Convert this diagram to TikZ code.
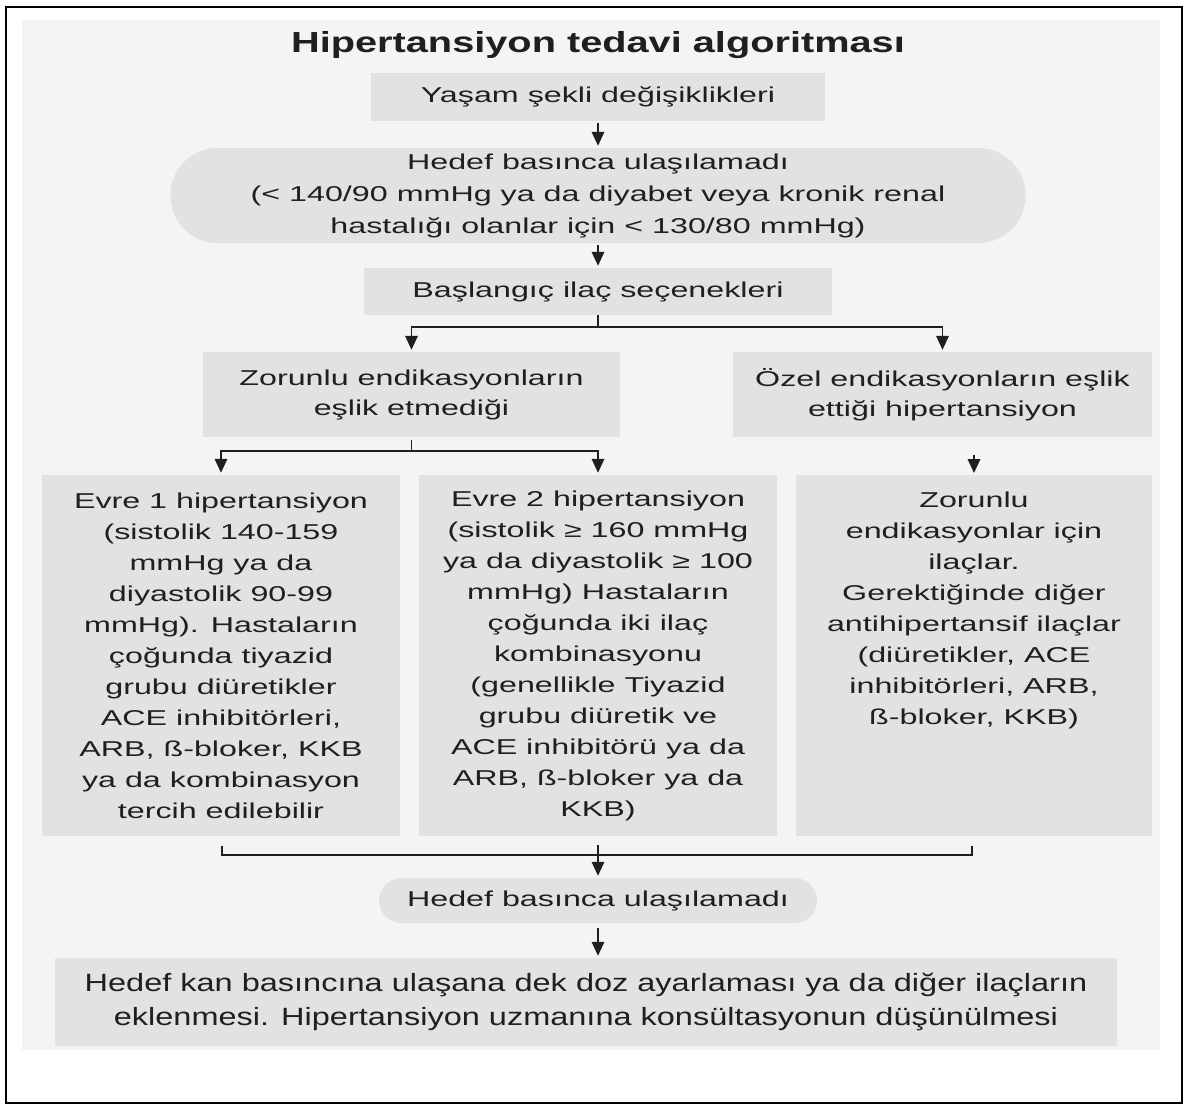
\documentclass[tikz,border=0pt]{standalone}
\usepackage{fontspec}
\setmainfont{Liberation Sans}[FakeStretch=1.5]
\newfontfamily\titlefont{Liberation Sans}[FakeStretch=1.37]
\newfontfamily\lastfont{Liberation Sans}[FakeStretch=1.3]
\usepackage{tikz}
\usetikzlibrary{positioning, arrows.meta, calc}
\definecolor{scanbg}{gray}{0.955}
\definecolor{boxgray}{gray}{0.885}
\definecolor{ink}{gray}{0.12}

\tikzset{
	box/.style={fill=boxgray, text=ink, inner sep=0pt, align=center,
		font=\fontsize{21.5}{31}\selectfont},
	pill/.style={box, rounded corners=#1},
	arr/.style={draw=ink, line width=1.8pt, -{Triangle[width=12.5pt,length=14pt]},
		shorten <=2pt, shorten >=2pt},
	ln/.style={draw=ink, line width=1.8pt}
}

\begin{document}
\begin{tikzpicture}[x=1pt, y=-1pt]
	\useasboundingbox (0,0) rectangle (1189,1109);
	\fill[scanbg] (22,20) rectangle (1160,1050);
	\draw[line width=1.5pt] (6,7) rectangle (1182,1103);
	
	\node[anchor=base, text=ink, font=\titlefont\bfseries\fontsize{29}{34}\selectfont] (title) at (598,52) {Hipertansiyon tedavi algoritması};
	
	\node[box, minimum width=454pt, minimum height=48pt] (yasam) at (598,97) {Yaşam şekli değişiklikleri};
	\node[pill=47pt, minimum width=855pt, minimum height=95pt, font=\fontsize{21.5}{32}\selectfont] (hedef) at (598,195.5)
		{Hedef basınca ulaşılamadı\\(< 140/90 mmHg ya da diyabet veya kronik renal\\hastalığı olanlar için < 130/80 mmHg)};
	\node[box, minimum width=468pt, minimum height=47pt] (basla) at (598,291.5) {Başlangıç ilaç seçenekleri};
	
	\node[box, minimum width=417pt, minimum height=85pt, font=\fontsize{21.5}{30}\selectfont] (zor) at (411.5,394.5)
		{Zorunlu endikasyonların\\eşlik etmediği};
	\node[box, minimum width=419pt, minimum height=85pt, font=\fontsize{21.5}{30}\selectfont] (ozel) at (942.5,394.5)
		{Özel endikasyonların eşlik\\ettiği hipertansiyon};
	
	\node[box, minimum width=358pt, minimum height=361pt] (evre1) at (221,655.5)
		{Evre 1 hipertansiyon\\(sistolik 140-159\\mmHg ya da\\diyastolik 90-99\\mmHg). Hastaların\\çoğunda tiyazid\\grubu diüretikler\\ACE inhibitörleri,\\ARB, ß-bloker, KKB\\ya da kombinasyon\\tercih edilebilir};
	\node[box, minimum width=358pt, minimum height=361pt] (evre2) at (598,655.5)
		{Evre 2 hipertansiyon\\(sistolik ≥ 160 mmHg\\ya da diyastolik ≥ 100\\mmHg) Hastaların\\çoğunda iki ilaç\\kombinasyonu\\(genellikle Tiyazid\\grubu diüretik ve\\ACE inhibitörü ya da\\ARB, ß-bloker ya da\\KKB)};
	\node[box, anchor=north, minimum width=356pt, text height=249.5pt, text depth=111.5pt] (ilac) at (974,475)
		{Zorunlu\\endikasyonlar için\\ilaçlar.\\Gerektiğinde diğer\\antihipertansif ilaçlar\\(diüretikler, ACE\\inhibitörleri, ARB,\\ß-bloker, KKB)};
	
	\node[pill=22.5pt, minimum width=438pt, minimum height=45pt] (hedef2) at (598,900.5) {Hedef basınca ulaşılamadı};
	\node[box, minimum width=1062pt, minimum height=88pt, font=\lastfont\fontsize{25}{34}\selectfont] (son) at (586,1002)
		{Hedef kan basıncına ulaşana dek doz ayarlaması ya da diğer ilaçların\\eklenmesi. Hipertansiyon uzmanına konsültasyonun düşünülmesi};
	
	\coordinate (split1) at (598,327);
	\coordinate (split2) at (411.5,451);
	\coordinate (ozelout) at (974,455);
	\coordinate (joinL) at (222,846);
	\coordinate (joinR) at (972,846);
	\coordinate (joinbar) at (598,855);
	\coordinate (jointop) at (598,845);
	
	\draw[arr] (yasam) -- (hedef);
	\draw[arr] (hedef) -- (basla);
	\draw[ln] (basla.south) -- (split1);
	\draw[arr, shorten <=0pt] (split1) -| (zor.north);
	\draw[arr, shorten <=0pt] (split1) -| (ozel.north);
	\draw[ln] (zor.south) ++(0,3) -- (split2);
	\draw[arr, shorten <=0pt] (split2) -| (evre1.north);
	\draw[arr, shorten <=0pt] (split2) -| (evre2.north);
	\draw[arr, shorten <=0pt] (ozelout) -- (ilac.north);
	\draw[ln] (joinL) |- (joinbar) -| (joinR);
	\draw[arr, shorten <=0pt] (jointop) -- (hedef2.north);
	\draw[arr, shorten <=5pt] (hedef2.south) -- (hedef2.south |- son.north);
\end{tikzpicture}
\end{document}
